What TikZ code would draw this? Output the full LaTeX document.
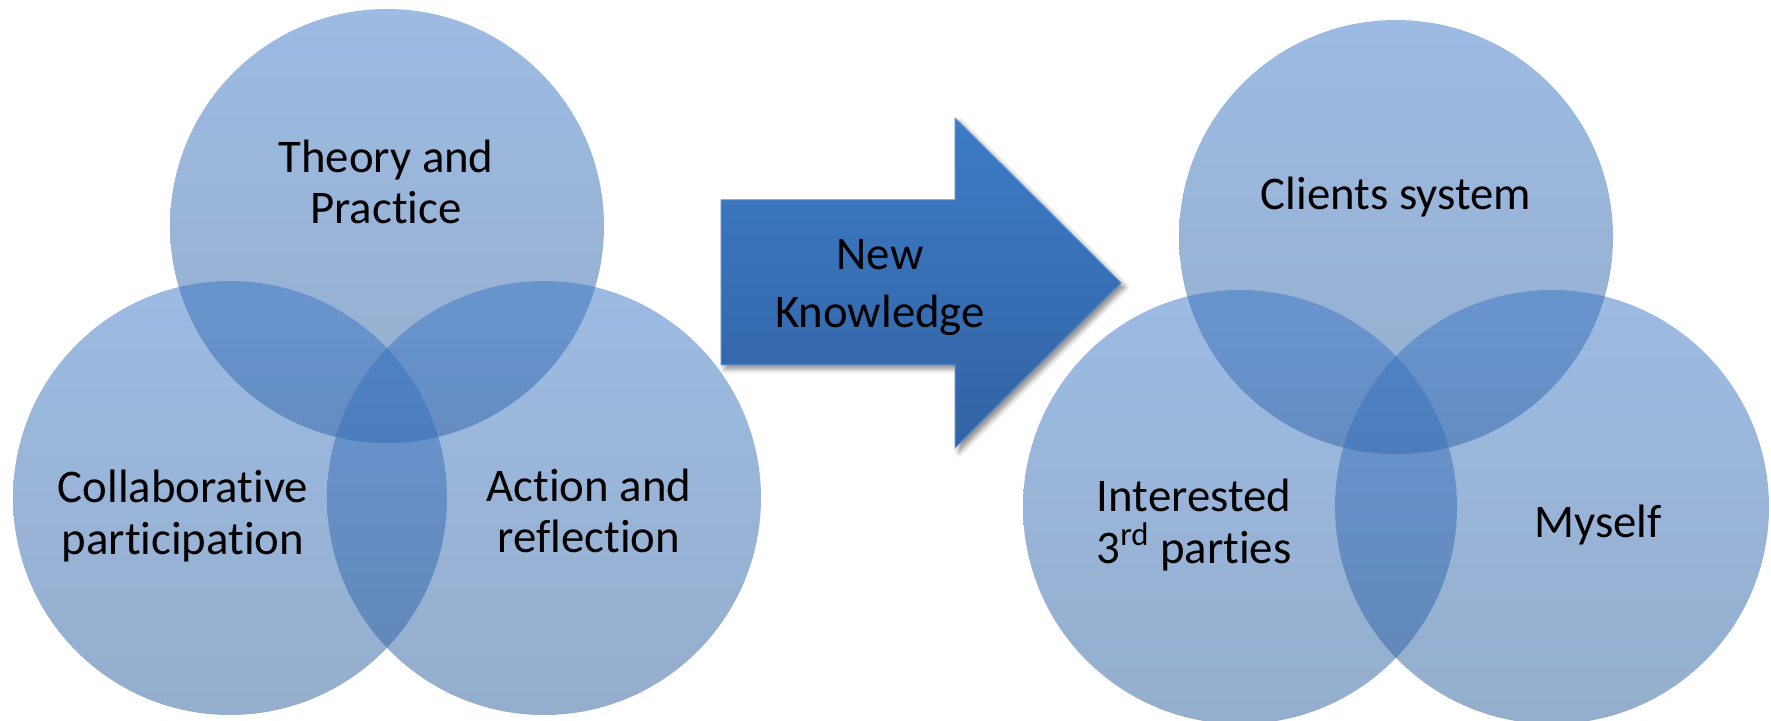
\documentclass[tikz,border=0pt]{standalone}
\usepackage{fontspec}
\setmainfont{Carlito}[Ligatures=NoCommon]
\usetikzlibrary{shadows.blur}
\definecolor{venntop}{RGB}{59,119,199}
\definecolor{vennbottom}{RGB}{43,93,155}
\definecolor{arrowtop}{RGB}{61,123,199}
\definecolor{arrowbottom}{RGB}{50,99,163}
\definecolor{arrowline}{RGB}{92,142,208}
\begin{document}
\begin{tikzpicture}[x=0.5pt, y=-0.5pt]
    \tikzset{venn/.style={top color=venntop, bottom color=vennbottom, fill opacity=0.5, draw=none}}
    \tikzset{txt/.style={align=center, text=black, font=\fontsize{23.4}{25.8}\selectfont}}
    \useasboundingbox (0,0) rectangle (1771,721);

    \coordinate (1) at (387,226);
    \coordinate (2) at (230,498);
    \coordinate (3) at (544,498);
    \coordinate (4) at (1396,237);
    \coordinate (5) at (1240,507);
    \coordinate (6) at (1552,507);

    \foreach \c in {1,2,3,4,5,6}{
	\shade[venn] (\c) circle (217);
    }

    \coordinate (a1) at (721,200);
    \coordinate (a2) at (955,200);
    \coordinate (a3) at (955,118);
    \coordinate (a4) at (1121,283);
    \coordinate (a5) at (955,448);
    \coordinate (a6) at (955,365);
    \coordinate (a7) at (721,365);
    \path [blur shadow={shadow xshift=2pt, shadow yshift=-2pt, shadow blur radius=2.5pt, shadow opacity=45},
        top color=arrowtop, bottom color=arrowbottom, draw=arrowline, line width=0.5pt]
        (a1) -- (a2) -- (a3) -- (a4) -- (a5) -- (a6) -- (a7) -- cycle;

    \node[txt] (theory) at (386,182) {Theory and\\Practice};
    \node[txt] (collab) at (183,516) {Collaborative\\participation};
    \node[txt] (action) at (589,511) {Action and\\reflection};
    \node[txt, font=\fontsize{23.4}{29}\selectfont] (knowledge) at (880,288) {New\\Knowledge};
    \node[txt] (clients) at (1396,197) {Clients system};
    \node[txt] (parties) at (1194,525) {Interested\\3\textsuperscript{rd} parties};
    \node[txt] (myself) at (1598,525) {Myself};
\end{tikzpicture}
\end{document}
